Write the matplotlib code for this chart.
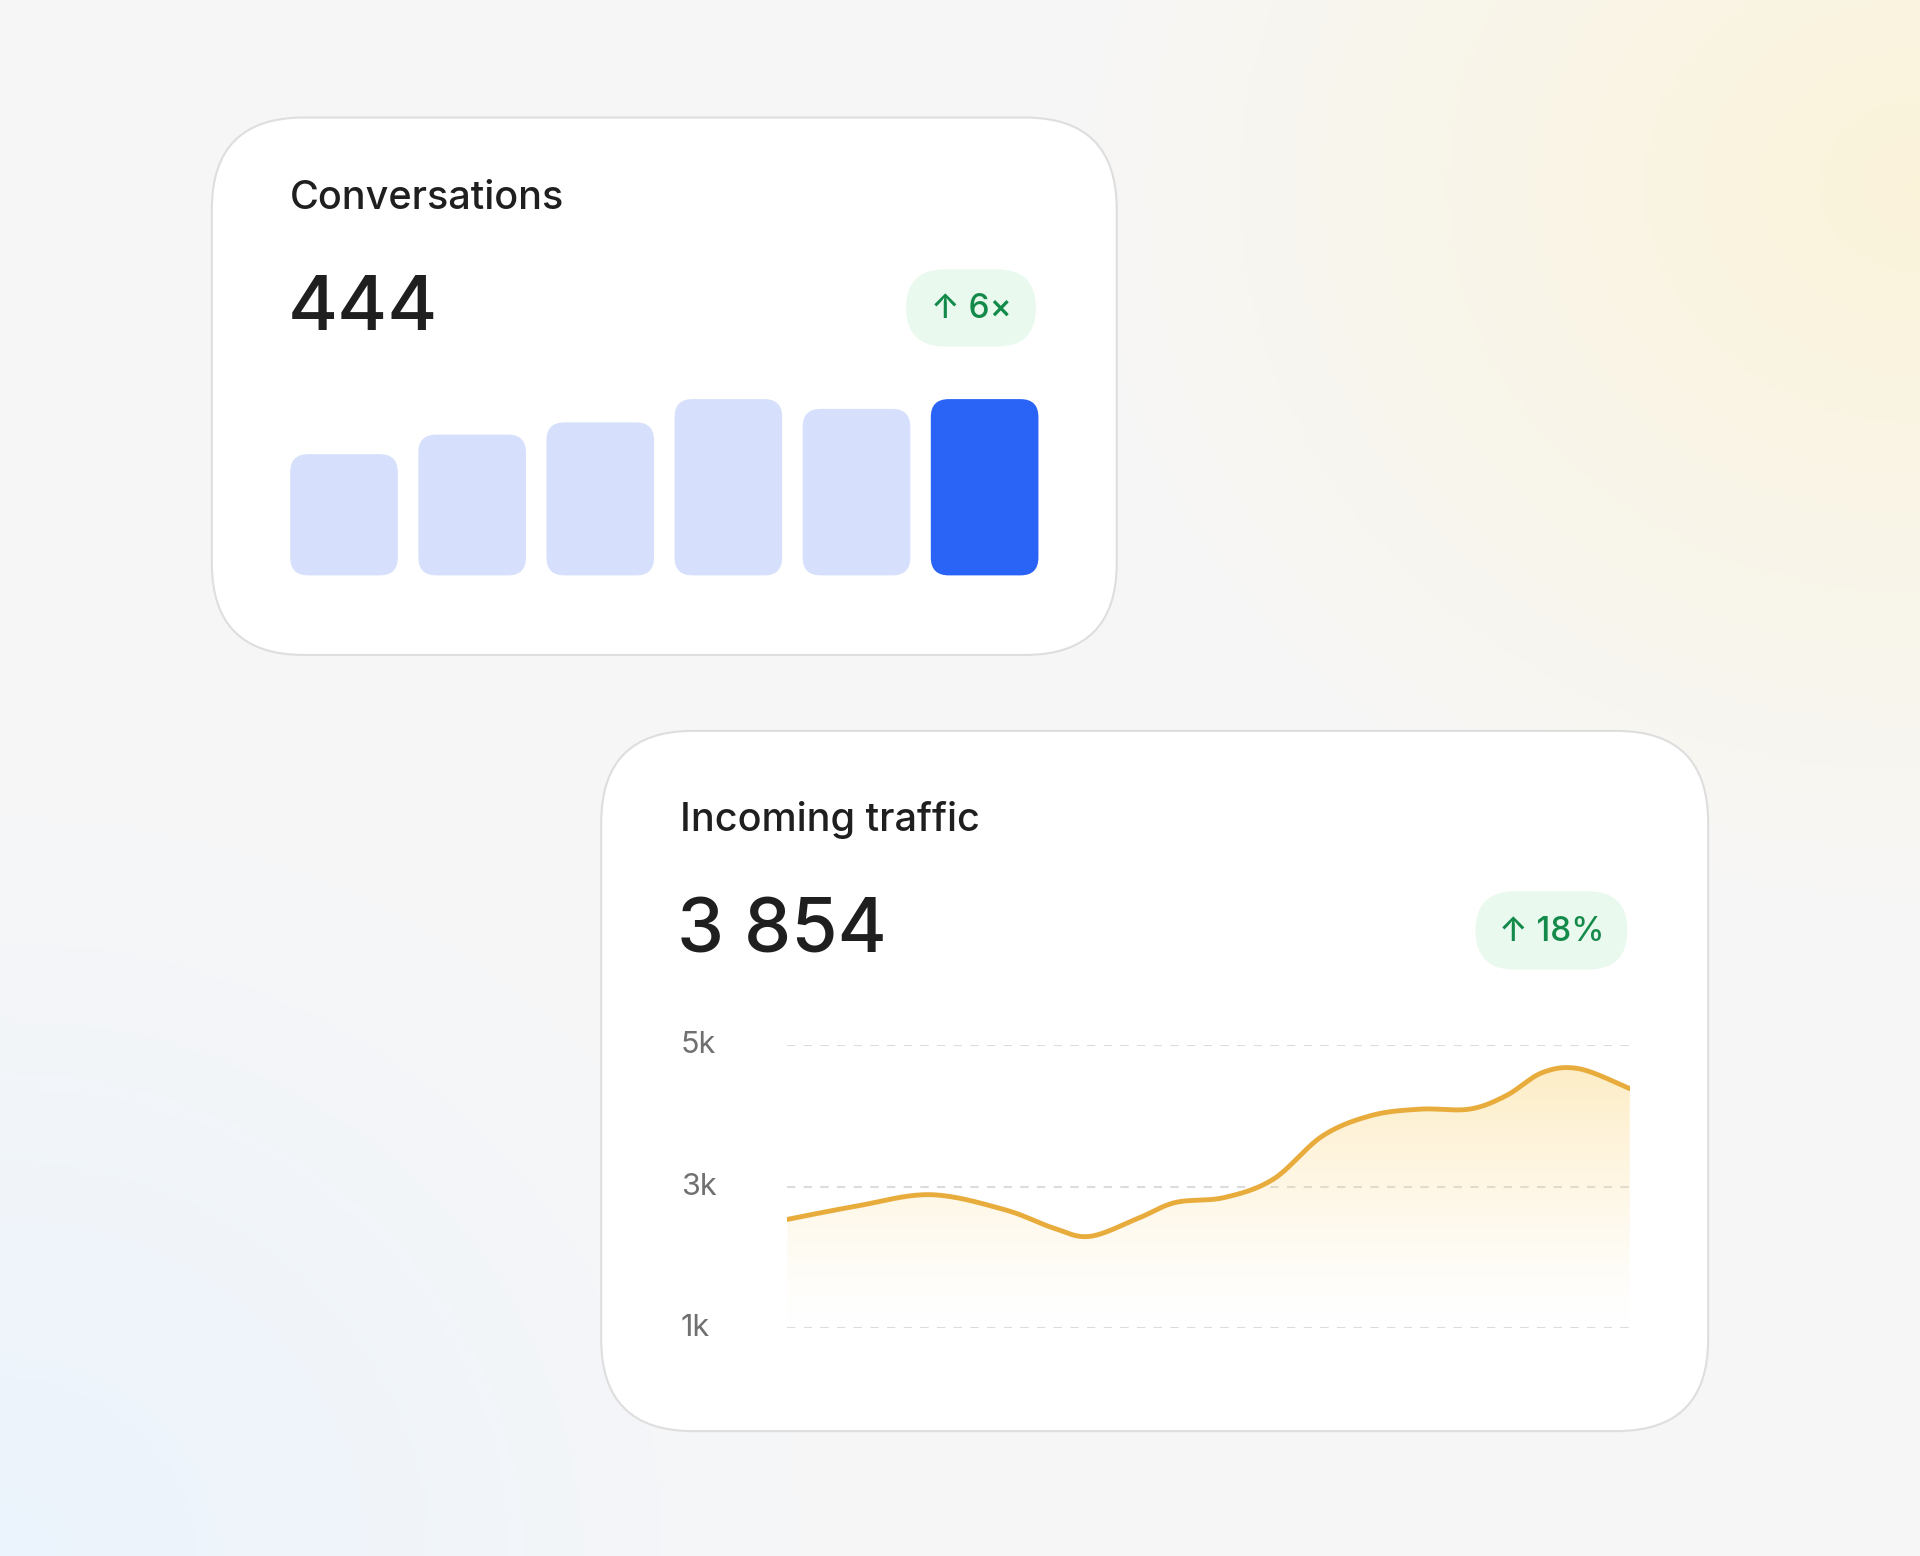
import numpy as np
import matplotlib
matplotlib.use("Agg")
import matplotlib.pyplot as plt
from matplotlib.patches import FancyBboxPatch, Polygon

plt.rcParams['font.family'] = ['Inter', 'DejaVu Sans']

# data
bar_values = [99, 115, 125, 144, 136, 144]
bar_colors = ['#d6e0fc'] * 5 + ['#2a64f6']
traffic_x = [0, 57, 117, 177, 217, 247, 287, 317, 357, 397, 437, 477, 517, 557, 587, 617, 647, 688]
traffic_y = [2.54, 2.73, 2.89, 2.68, 2.42, 2.30, 2.56, 2.78, 2.85, 3.11, 3.72, 4.01, 4.10, 4.10, 4.29, 4.62, 4.67, 4.39]
y_ticks = [1, 3, 5]
y_labels = ['1k', '3k', '5k']

W, H = 1568, 1271
fig = plt.figure(figsize=(19.2, 15.56), dpi=100)

def fpos(x0, y0, x1, y1):
    return [x0 / W, 1 - y1 / H, (x1 - x0) / W, (y1 - y0) / H]

# background
bg = fig.add_axes([0, 0, 1, 1])
bg.set_xlim(0, W); bg.set_ylim(H, 0); bg.axis('off')
yy, xx = np.mgrid[0:H:4, 0:W:4]
base = np.array([0.968, 0.968, 0.968])
img = np.ones(yy.shape + (3,)) * base
yel = np.clip(1 - np.hypot((xx - W) / 700, (yy - 150) / 600), 0, 1)[..., None]
blu = np.clip(1 - np.hypot(xx / 700, (yy - H) / 650), 0, 1)[..., None]
img = img * (1 - yel * 0.9) + np.array([0.985, 0.95, 0.84]) * yel * 0.9
img = img * (1 - blu * 0.8) + np.array([0.91, 0.95, 0.995]) * blu * 0.8
bg.imshow(img, extent=[0, W, H, 0], aspect='auto', zorder=0)

def card(x0, y0, x1, y1, r):
    bg.add_patch(FancyBboxPatch((x0 + r, y0 + r), x1 - x0 - 2 * r, y1 - y0 - 2 * r,
                                boxstyle=f"round,pad={r}", fc='white', ec='#dedede', lw=1.5, zorder=1))

def badge(x0, y0, x1, y1, text, fs):
    r = (y1 - y0) / 2
    bg.add_patch(FancyBboxPatch((x0 + r, y0 + r), x1 - x0 - 2 * r, 0.01,
                                boxstyle=f"round,pad={r}", fc='#e9f9ee', ec='none', zorder=2))
    bg.text((x0 + x1) / 2, (y0 + y1) / 2 + 1, text, fontsize=fs, color='#148a4a',
            ha='center', va='center', zorder=3, fontweight='medium')

card(173, 96, 912, 535, 75)
card(491, 597, 1395, 1169, 75)

bg.text(237, 162, 'Conversations', fontsize=28.5, color='#1f1f1f', va='center', zorder=3, fontweight='medium')
bg.text(235, 254, '444', fontsize=55, color='#1f1f1f', va='center', zorder=3, fontweight='medium')
badge(740, 220, 846, 283, '↑ 6×', 24)

bg.text(555, 670, 'Incoming traffic', fontsize=28.5, color='#1f1f1f', va='center', zorder=3, fontweight='medium')
bg.text(553, 762, '3 854', fontsize=54, color='#1f1f1f', va='center', zorder=3, fontweight='medium')
badge(1205, 728, 1329, 792, '↑ 18%', 24)

# bars
ax1 = fig.add_axes(fpos(237, 326, 847, 470))
ax1.set_xlim(-0.42, 5.41); ax1.set_ylim(0, 144); ax1.axis('off')
rp = 0.14
asp = 104.6
for i, (v, c) in enumerate(zip(bar_values, bar_colors)):
    ax1.add_patch(FancyBboxPatch((i - 0.42 + rp, rp * asp), 0.84 - 2 * rp, v - 2 * rp * asp,
                                 boxstyle=f"round,pad={rp},rounding_size={rp}",
                                 mutation_aspect=asp, fc=c, ec='none', clip_on=False))

# line chart
ax2 = fig.add_axes(fpos(643, 854, 1331, 1085))
ax2.set_xlim(0, 688); ax2.set_ylim(1, 5)
for s in ax2.spines.values():
    s.set_visible(False)
ax2.set_xticks([]); ax2.set_yticks([])
ax2.patch.set_alpha(0)
for t, lab in zip(y_ticks, y_labels):
    ax2.axhline(t, color='#dcdcdc', lw=1.5, ls=(0, (4, 4)), zorder=1)
    ax2.text(-87, t, lab, fontsize=22, color='#707070', va='center', ha='left')

# smooth rendering of the sampled curve (Catmull-Rom)
px = np.array(traffic_x, float); py = np.array(traffic_y, float)
P = np.stack([px, py], 1)
P = np.vstack([P[0], P, P[-1]])
sx, sy = [], []
for k in range(1, len(P) - 2):
    p0, p1, p2, p3 = P[k - 1], P[k], P[k + 1], P[k + 2]
    for t in np.linspace(0, 1, 20, endpoint=False):
        q = 0.5 * ((2 * p1) + (-p0 + p2) * t + (2 * p0 - 5 * p1 + 4 * p2 - p3) * t ** 2
                   + (-p0 + 3 * p1 - 3 * p2 + p3) * t ** 3)
        sx.append(q[0]); sy.append(q[1])
sx.append(px[-1]); sy.append(py[-1])

grad = np.linspace(0, 1, 200)[:, None]
cols = np.ones((200, 1, 4))
cols[..., 0] = 0.99; cols[..., 1] = 0.86; cols[..., 2] = 0.55
cols[..., 3] = 0.55 * grad ** 1.3
im = ax2.imshow(cols, extent=[0, 688, 1, 5], origin='lower', aspect='auto', zorder=2)
poly = Polygon(list(zip(sx, sy)) + [(688, 1), (0, 1)], closed=True,
               transform=ax2.transData, fc='none', ec='none')
ax2.add_patch(poly)
im.set_clip_path(poly)
ax2.plot(sx, sy, color='#e8ac3c', lw=3.5, zorder=3, solid_capstyle='round', solid_joinstyle='round')

fig.savefig('out.png', dpi=100)
